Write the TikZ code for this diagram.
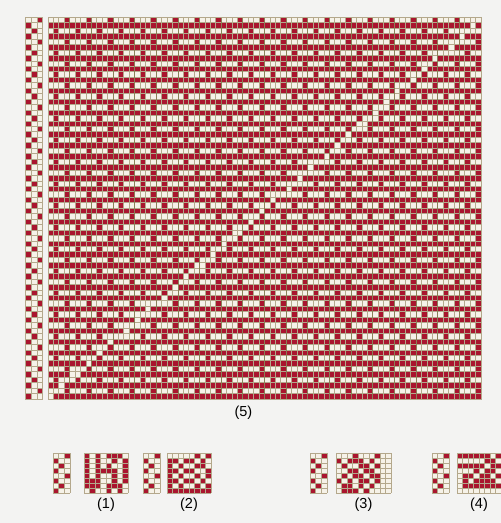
\documentclass[tikz,border=0pt]{standalone}
\usepackage{fontspec}
\setmainfont{Liberation Sans}
\definecolor{weftred}{HTML}{A9152E}
\definecolor{warpwhite}{HTML}{F6F2E8}
\definecolor{gridtan}{HTML}{B4A88C}
\definecolor{gridolive}{HTML}{8A8058}
\definecolor{paper}{HTML}{F3F3F2}

% small draft: #1 strip x, #2 grid x, #3 columns, #4 rows, #5 node name, #6 label
\newcommand{\drawdraft}[6]{%
  \begin{scope}[shift={(#1,453)}, x=5.8pt, y=-5pt]
    \fill[warpwhite] (0,0) rectangle (3,8);
    \foreach \r in {0,4} {
      \fill[weftred] (2,\r) rectangle ++(1,1);
      \fill[weftred] (0,\r+1) rectangle ++(1,1);
      \fill[weftred] (1,\r+2) rectangle ++(1,1);
      \fill[weftred] (0,\r+3) rectangle ++(1,1);
    }
    \foreach \c in {0,...,3} \draw[cellline] (\c,0) -- (\c,8);
    \foreach \r in {0,...,8} \draw[cellline] (0,\r) -- (3,\r);
  \end{scope}
  \begin{scope}[shift={(#2,453)}, x=5.5pt, y=-5pt]
    \fill[warpwhite] (0,0) rectangle (#3,8);
    \foreach \row [count=\r from 0] in {#4} {
      \foreach \v [count=\c from 0] in \row {
        \ifnum\v=1 \fill[weftred] (\c,\r) rectangle ++(1,1); \fi
      }
    }
    \foreach \c in {0,...,#3} \draw[cellline] (\c,0) -- (\c,8);
    \foreach \r in {0,...,8} \draw[cellline] (0,\r) -- (#3,\r);
    \node[draftlabel] (#5) at (#3/2,10.3) {#6};
  \end{scope}
}

\begin{document}
\begin{tikzpicture}[
    x=1pt, y=-1pt,
    cellline/.style={gridtan, line width=0.75pt},
    majorline/.style={gridolive, line width=0.75pt},
    draftlabel/.style={inner sep=0pt, font=\fontsize{14.5}{16}\selectfont}
  ]
  \fill[paper] (0,0) rectangle (501,523);
  \useasboundingbox (0,0) rectangle (501,523);
  \clip (0,0) rectangle (501,523);

  % treadling of the large draft
  \begin{scope}[shift={(25.3,17.3)}, x=5.8pt, y=-5.453pt]
    \fill[warpwhite] (0,0) rectangle (3,70);
    \begin{scope}
      \clip (0,0) rectangle (3,70);
      \foreach \r in {0,4,...,68} {
        \fill[weftred] (2,\r) rectangle ++(1,1);
        \fill[weftred] (0,\r+1) rectangle ++(1,1);
        \fill[weftred] (1,\r+2) rectangle ++(1,1);
        \fill[weftred] (0,\r+3) rectangle ++(1,1);
      }
    \end{scope}
    \foreach \c in {0,...,3} \draw[cellline] (\c,0) -- (\c,70);
    \foreach \r in {0,...,70} \draw[cellline] (0,\r) -- (3,\r);
  \end{scope}

  % large drawdown
  \begin{scope}[shift={(48,17.3)}, x=5.4125pt, y=-5.453pt]
    \fill[weftred] (0,0) rectangle (80,70);
    \foreach \r in {0,4,...,68}
      \foreach \c in {0,4,...,76}
        \fill[warpwhite] (\c,\r) rectangle ++(3,1);
    \foreach \r in {2,6,...,66}
      \foreach \c in {0,4,...,76} {
        \fill[warpwhite] (\c,\r) rectangle ++(1,1);
        \fill[warpwhite] (\c+2,\r) rectangle ++(2,1);
      }
    % diagonal
    \foreach \c in {0,...,79} {
      \pgfmathtruncatemacro\d{round(68.9-0.868*\c)}
      \fill[warpwhite] (\c,\d) rectangle ++(1,1);
    }
    \foreach \c in {0,...,80} \draw[cellline] (\c,0) -- (\c,70);
    \foreach \r in {0,...,70} \draw[cellline] (0,\r) -- (80,\r);
    \foreach \c in {4,8,...,76} \draw[majorline] (\c,0) -- (\c,70);
    \draw[cellline] (0,0) rectangle (80,70);
    \node[draftlabel] (lab5) at (36.1,72.6) {(5)};
  \end{scope}

  \drawdraft{53}{84}{8}{{1,0,1,0,1,1,1,0},{1,0,1,0,0,1,0,1},{1,0,1,0,1,0,0,1},
    {1,0,1,1,1,1,0,1},{1,0,1,0,0,1,0,1},{1,1,1,0,0,1,0,1},{1,1,1,0,1,1,1,0},
    {0,1,0,0,1,0,1,0}}{lab1}{(1)}
  \drawdraft{143}{167}{8}{{0,0,0,0,0,1,0,1},{1,1,0,1,1,0,1,0},{1,0,1,0,0,1,1,0},
    {1,1,0,1,1,0,0,1},{1,0,1,0,0,1,0,1},{1,1,0,1,1,0,1,0},{1,0,1,0,0,1,0,1},
    {1,1,1,1,1,1,1,1}}{lab2}{(2)}
  \drawdraft{310}{336}{10}{{0,0,0,1,0,0,0,1,0,0},{1,0,1,1,1,0,1,0,0,0},
    {0,1,0,0,1,1,0,1,0,0},{0,0,1,1,0,1,1,0,0,0},{0,1,0,1,1,0,1,1,0,0},
    {1,0,1,0,1,1,0,1,0,0},{0,1,1,0,1,0,1,0,0,0},{0,1,1,1,0,1,0,0,0,0}}{lab3}{(3)}
  \drawdraft{432}{457}{8}{{1,1,1,1,1,1,0,1},{0,0,0,0,0,1,1,0},{1,1,1,1,1,0,1,1},
    {0,0,0,1,0,1,1,0},{0,1,1,0,1,1,0,1},{0,1,0,1,1,1,1,0},{0,1,1,1,1,1,1,1},
    {0,0,0,0,0,0,0,0}}{lab4}{(4)}
\end{tikzpicture}
\end{document}
